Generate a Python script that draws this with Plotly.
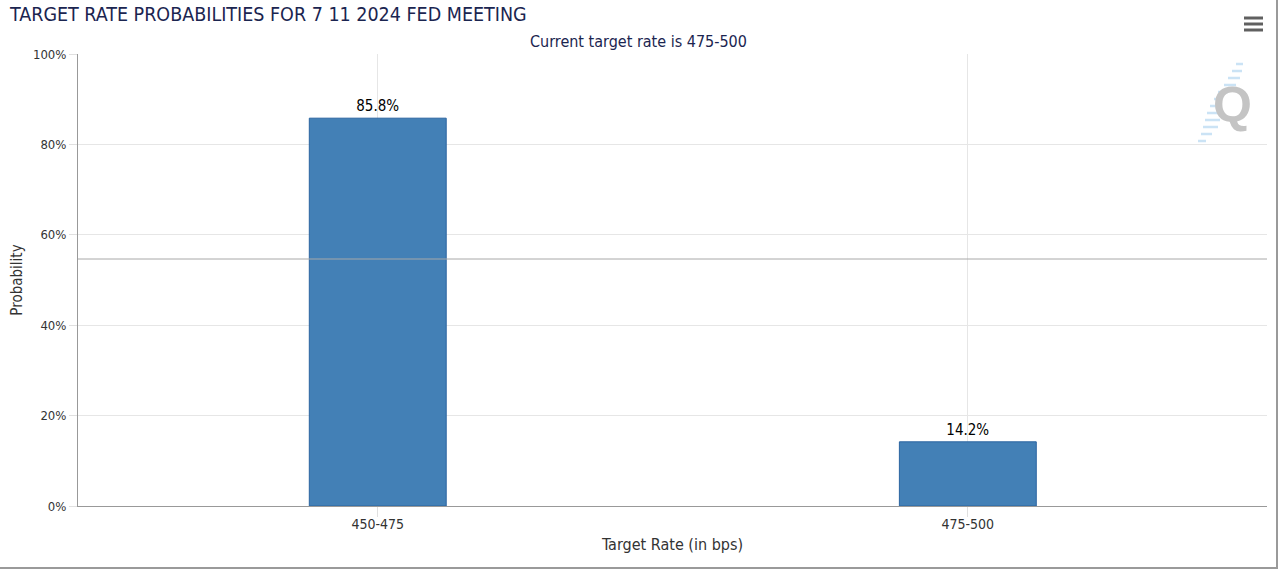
import plotly.graph_objects as go

categories = ["450-475", "475-500"]
probabilities = [85.8, 14.2]
labels = ["85.8%", "14.2%"]
title_text = "TARGET RATE PROBABILITIES FOR 7 11 2024 FED MEETING"
subtitle_text = "Current target rate is 475-500"

W, H = 1280, 572
L, R, T, B = 78, 13, 54, 66
PW, PH = W - L - R, H - T - B

def px(x):
    return (x - L) / PW

def py(y):
    return (H - B - y) / PH

FONT = "DejaVu Sans Condensed, Open Sans, sans-serif"

fig = go.Figure()
fig.add_trace(go.Bar(
    x=categories, y=probabilities, text=labels, textposition="outside",
    textfont=dict(size=15, color="#000000", family=FONT),
    marker=dict(color="#4380b6", line=dict(color="#2a64a0", width=1)),
    width=0.232, cliponaxis=False, hoverinfo="skip",
))

shapes = []
# horizontal line across plot
shapes.append(dict(type="line", xref="paper", yref="paper", x0=0, x1=1,
                   y0=py(259), y1=py(259), line=dict(color="#a8a8a8", width=1)))
# frame lines right and bottom
shapes.append(dict(type="line", xref="paper", yref="paper", x0=px(1277), x1=px(1277),
                   y0=py(0), y1=py(568), line=dict(color="#9a9a9a", width=2)))
shapes.append(dict(type="line", xref="paper", yref="paper", x0=px(0), x1=px(1278),
                   y0=py(568), y1=py(568), line=dict(color="#9a9a9a", width=2)))
# hamburger icon
for yy in (18, 24, 30):
    shapes.append(dict(type="line", xref="paper", yref="paper", x0=px(1244), x1=px(1263),
                       y0=py(yy), y1=py(yy), line=dict(color="#606060", width=3)))
# watermark stripes
stripe_rows = [(64, 1236, 1243), (71, 1232, 1242), (78, 1228, 1240), (85, 1224, 1236),
               (92, 1218, 1228), (99, 1214, 1222), (106, 1210, 1220), (113, 1207, 1220),
               (120, 1205, 1220), (127, 1203, 1218), (134, 1201, 1212), (141, 1198, 1206)]
for yy, x0, x1 in stripe_rows:
    shapes.append(dict(type="line", xref="paper", yref="paper", x0=px(x0), x1=px(x1),
                       y0=py(yy), y1=py(yy), line=dict(color="#cbe3f5", width=2.5)))

annotations = [
    dict(text=title_text, xref="paper", yref="paper", x=px(7), y=py(15),
         xanchor="left", yanchor="middle", showarrow=False,
         font=dict(size=19.5, color="#1b2550", family=FONT)),
    dict(text=subtitle_text, xref="paper", yref="paper", x=px(638), y=py(42),
         xanchor="center", yanchor="middle", showarrow=False,
         font=dict(size=16, color="#1b2550", family=FONT)),
    dict(text="<b>Q</b>", xref="paper", yref="paper", x=px(1232), y=py(105),
         xanchor="center", yanchor="middle", showarrow=False,
         font=dict(size=50, color="#c4c4c4", family="Liberation Sans, Arial, sans-serif")),
]

fig.update_layout(
    width=W, height=H,
    margin=dict(l=L, r=R, t=T, b=B),
    paper_bgcolor="#ffffff", plot_bgcolor="#ffffff",
    showlegend=False,
    font=dict(family=FONT, color="#333333", size=13),
    shapes=shapes, annotations=annotations,
    xaxis=dict(
        range=[-0.508, 1.507],
        showgrid=True, gridcolor="#e6e6e6", gridwidth=1,
        showline=True, linecolor="#999999", linewidth=1,
        ticks="outside", ticklen=10, tickcolor="#e0e0e0",
        ticklabelstandoff=-5,
        tickfont=dict(size=14, color="#333333", family=FONT),
        title=dict(text="Target Rate (in bps)", font=dict(size=16, color="#333333", family=FONT),
                   standoff=8),
        fixedrange=True,
    ),
    yaxis=dict(
        range=[0, 100], dtick=20, ticksuffix="%",
        showgrid=True, gridcolor="#e6e6e6", gridwidth=1, zeroline=False,
        showline=True, linecolor="#999999", linewidth=1,
        ticks="outside", ticklen=8, tickcolor="#e0e0e0",
        tickfont=dict(size=13, color="#333333", family=FONT),
        title=dict(text="Probability", font=dict(size=15, color="#333333", family=FONT),
                   standoff=6),
        fixedrange=True,
    ),
)

fig.write_html("out.html", config={"displayModeBar": False},
               post_script="document.body.style.margin='0';document.body.style.padding='0';")
